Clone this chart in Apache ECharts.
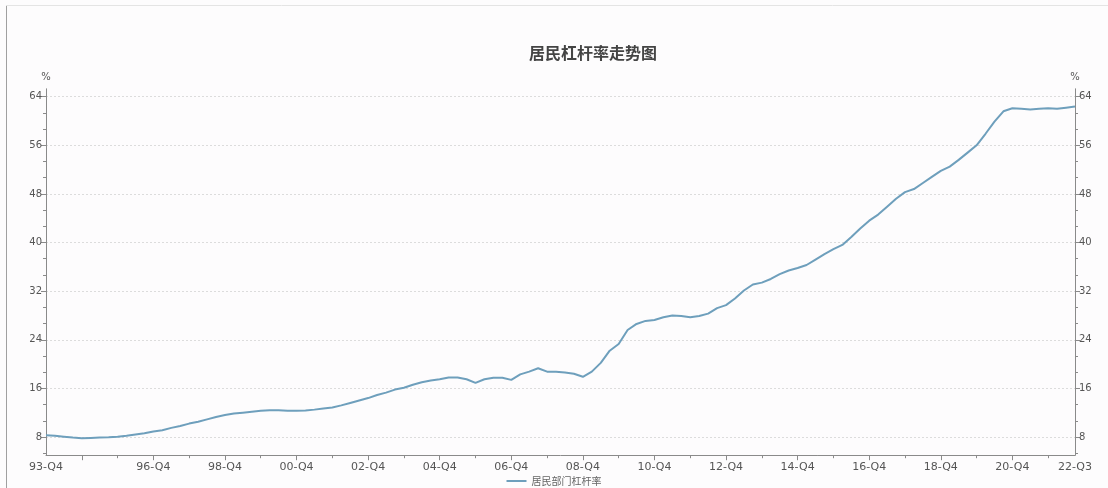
<!DOCTYPE html>
<html>
<head>
<meta charset="utf-8">
<script src="https://cdn.jsdelivr.net/npm/echarts@6/dist/echarts.min.js"></script>
<style>
html,body{margin:0;padding:0;background:#fdfcfd;}
#c{width:1108px;height:488px;}
</style>
</head>
<body>
<div id="c"></div>
<script>
// Category labels: quarterly from 93-Q4 to 22-Q3
const startYear = 93, startQ = 4, count = 116;
const categories = [];
(function(){
  let y = startYear, q = startQ;
  for (let i = 0; i < count; i++) {
    categories.push(String(y % 100).padStart(2, '0') + '-Q' + q);
    q++; if (q > 4) { q = 1; y++; }
  }
})();

const seriesName = '居民部门杠杆率';
const leverage = [
  8.3, 8.2, 8.05, 7.9, 7.8, 7.85, 7.9, 7.95, 8.05, 8.2,
  8.4, 8.6, 8.9, 9.1, 9.5, 9.8, 10.2, 10.5, 10.9, 11.3,
  11.6, 11.85, 12.0, 12.15, 12.3, 12.4, 12.4, 12.3, 12.3, 12.35,
  12.5, 12.7, 12.85, 13.2, 13.6, 14.0, 14.4, 14.9, 15.3, 15.8,
  16.1, 16.6, 17.0, 17.3, 17.5, 17.8, 17.8, 17.5, 16.9, 17.5,
  17.75, 17.75, 17.4, 18.3, 18.75, 19.3, 18.75, 18.75, 18.6, 18.4,
  17.9, 18.75, 20.2, 22.2, 23.3, 25.6, 26.6, 27.1, 27.25, 27.7,
  28.0, 27.9, 27.7, 27.9, 28.3, 29.2, 29.7, 30.8, 32.1, 33.1,
  33.4, 34.0, 34.8, 35.4, 35.8, 36.3, 37.2, 38.1, 38.9, 39.6,
  40.9, 42.3, 43.6, 44.6, 45.9, 47.2, 48.3, 48.8, 49.8, 50.8,
  51.8, 52.5, 53.6, 54.8, 56.0, 57.9, 59.9, 61.6, 62.1, 62.0,
  61.9, 62.0, 62.1, 62.0, 62.2, 62.4
];

const titleText = '居民杠杆率走势图';
const yMajorTicks = [8, 16, 24, 32, 40, 48, 56, 64];
const yMinorTicks = [5.333, 10.667, 13.333, 18.667, 21.333, 26.667, 29.333, 34.667, 37.333, 42.667, 45.333, 50.667, 53.333, 58.667, 61.333];
const yUnit = '%';
const yMin = 5, yMax = 65.3;

const chart = echarts.init(document.getElementById('c'));
const axisColor = '#8a8a8a';
const xLabelStyle = { color: '#555', fontSize: 11, fontFamily: 'DejaVu Sans' };
const yLabelStyle = { color: '#555', fontSize: 10, fontFamily: 'DejaVu Sans' };

function majorX(i){ return i % 8 === 4; }
function minorX(i){ return i % 8 === 0 && i > 0; }
function labelX(i){ return i === 0 || i === count - 1 || (i % 8 === 4 && i >= 12); }

function yAxisDef(pos, minor) {
  return {
    type: 'value', position: pos, min: yMin, max: yMax,
    name: minor ? '' : yUnit,
    nameLocation: 'end', nameGap: 6,
    nameTextStyle: { color: '#555', fontSize: 10, align: 'center', fontFamily: 'DejaVu Sans' },
    axisLine: { show: !minor, lineStyle: { color: axisColor, width: 1 } },
    axisTick: { show: true, length: minor ? 3 : 5, customValues: minor ? yMinorTicks : yMajorTicks,
      lineStyle: { color: axisColor } },
    axisLabel: { show: !minor, customValues: yMajorTicks, margin: 4, ...yLabelStyle },
    splitLine: { show: !minor && pos === 'left', lineStyle: { color: '#dcdcdc', type: [2, 2], width: 1 } }
  };
}

chart.setOption({
  backgroundColor: '#fdfcfd',
  animation: false,
  title: {
    text: titleText, left: 524, top: 40,
    textStyle: { fontSize: 16, fontWeight: 'bold', color: '#444', fontFamily: 'Noto Sans CJK SC' }
  },
  legend: {
    data: [seriesName], left: 'center', top: 471,
    icon: 'rect', itemWidth: 20, itemHeight: 2, itemGap: 6,
    textStyle: { color: '#666', fontSize: 10, fontFamily: 'Noto Sans CJK SC' }
  },
  grid: { left: 46, right: 33, top: 88.8, bottom: 32.8, outerBoundsMode: 'none', containLabel: false },
  xAxis: [
    {
      type: 'category', data: categories, boundaryGap: false,
      axisLine: { lineStyle: { color: axisColor } },
      axisTick: { show: true, length: 5, interval: function(i){ return majorX(i); }, lineStyle: { color: axisColor } },
      axisLabel: { interval: function(i){ return labelX(i); }, margin: 6, showMaxLabel: true, showMinLabel: true, ...xLabelStyle },
      splitLine: { show: false }
    },
    {
      type: 'category', data: categories, boundaryGap: false, position: 'bottom',
      axisLine: { show: false },
      axisTick: { show: true, length: 3, interval: function(i){ return minorX(i); }, lineStyle: { color: axisColor } },
      axisLabel: { show: false },
      splitLine: { show: false }
    }
  ],
  yAxis: [
    yAxisDef('left', false),
    yAxisDef('right', false),
    yAxisDef('left', true),
    yAxisDef('right', true)
  ],
  series: [{
    name: seriesName, type: 'line', data: leverage,
    xAxisIndex: 0, yAxisIndex: 0,
    symbol: 'none', smooth: false,
    lineStyle: { color: '#6e9fbc', width: 2 },
    itemStyle: { color: '#6e9fbc' }
  }],
  graphic: [
    { type: 'line', shape: { x1: 6.5, y1: 5, x2: 6.5, y2: 488 }, style: { stroke: '#a0a0a0', lineWidth: 1 } },
    { type: 'line', shape: { x1: 6, y1: 5.5, x2: 1108, y2: 5.5 }, style: { stroke: '#e4e4e4', lineWidth: 1 } }
  ]
});
</script>
</body>
</html>
